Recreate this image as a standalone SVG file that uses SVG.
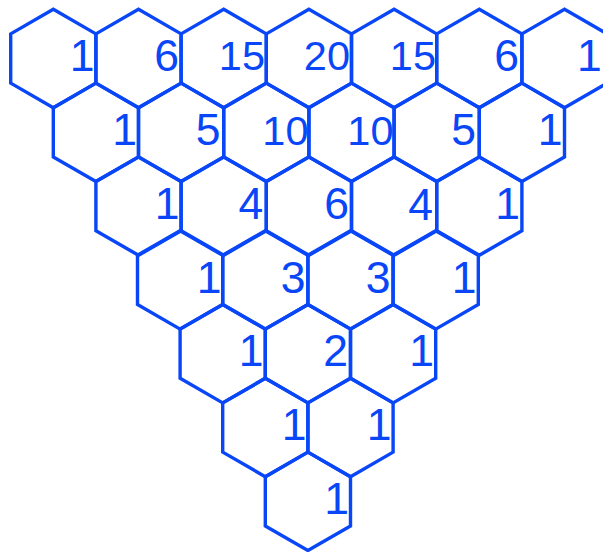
<svg xmlns="http://www.w3.org/2000/svg" xmlns:xlink="http://www.w3.org/1999/xlink" width="603" height="552" viewBox="0 0 603 552">
<style>
.hex{fill:none;stroke:#0846f8;stroke-width:3.4;stroke-linejoin:miter}
.n{fill:#0846f8;font-family:"Liberation Sans",Arial,sans-serif;font-size:44.5px;text-anchor:end}
.n2{font-size:41.5px}
</style>
<defs>
<polygon id="hex" points="0,-49.2 42.6,-24.6 42.6,24.6 0,49.2 -42.6,24.6 -42.6,-24.6"/>
</defs>
<rect width="603" height="552" fill="#ffffff"/>
<g id="connectors"/>
<g id="r0c0"><use xlink:href="#hex" class="hex" x="53.3" y="58.5"/><text class="n" x="94.5" y="71">1</text></g>
<g id="r0c1"><use xlink:href="#hex" class="hex" x="138.5" y="58.5"/><text class="n" x="179" y="71">6</text></g>
<g id="r0c2"><use xlink:href="#hex" class="hex" x="223.7" y="58.5"/><text class="n n2" x="265" y="69.5">15</text></g>
<g id="r0c3"><use xlink:href="#hex" class="hex" x="308.9" y="58.5"/><text class="n n2" x="350" y="70">20</text></g>
<g id="r0c4"><use xlink:href="#hex" class="hex" x="394.1" y="58.5"/><text class="n n2" x="436" y="70">15</text></g>
<g id="r0c5"><use xlink:href="#hex" class="hex" x="479.3" y="58.5"/><text class="n" x="519" y="70.7">6</text></g>
<g id="r0c6"><use xlink:href="#hex" class="hex" x="564.5" y="58.5"/><text class="n" x="577" y="70.5" style="text-anchor:start">1</text></g>
<g id="r1c0"><use xlink:href="#hex" class="hex" x="95.9" y="132.3"/><text class="n" x="137" y="144.5">1</text></g>
<g id="r1c1"><use xlink:href="#hex" class="hex" x="181.1" y="132.3"/><text class="n" x="220.5" y="145">5</text></g>
<g id="r1c2"><use xlink:href="#hex" class="hex" x="266.3" y="132.3"/><text class="n n2" x="308.5" y="144.5">10</text></g>
<g id="r1c3"><use xlink:href="#hex" class="hex" x="351.5" y="132.3"/><text class="n n2" x="393.5" y="144.5">10</text></g>
<g id="r1c4"><use xlink:href="#hex" class="hex" x="436.7" y="132.3"/><text class="n" x="476" y="145">5</text></g>
<g id="r1c5"><use xlink:href="#hex" class="hex" x="521.9" y="132.3"/><text class="n" x="562.5" y="145">1</text></g>
<g id="r2c0"><use xlink:href="#hex" class="hex" x="138.5" y="206.1"/><text class="n" x="179.5" y="219">1</text></g>
<g id="r2c1"><use xlink:href="#hex" class="hex" x="223.7" y="206.1"/><text class="n" x="263.2" y="219">4</text></g>
<g id="r2c2"><use xlink:href="#hex" class="hex" x="308.9" y="206.1"/><text class="n" x="349" y="219">6</text></g>
<g id="r2c3"><use xlink:href="#hex" class="hex" x="394.1" y="206.1"/><text class="n" x="433" y="219.5">4</text></g>
<g id="r2c4"><use xlink:href="#hex" class="hex" x="479.3" y="206.1"/><text class="n" x="520" y="218.5">1</text></g>
<g id="r3c0"><use xlink:href="#hex" class="hex" x="180.1" y="279.9"/><text class="n" x="221.5" y="292.5">1</text></g>
<g id="r3c1"><use xlink:href="#hex" class="hex" x="265.3" y="279.9"/><text class="n" x="305.5" y="292.5">3</text></g>
<g id="r3c2"><use xlink:href="#hex" class="hex" x="350.5" y="279.9"/><text class="n" x="390.5" y="292.5">3</text></g>
<g id="r3c3"><use xlink:href="#hex" class="hex" x="435.7" y="279.9"/><text class="n" x="476.5" y="292.5">1</text></g>
<g id="r4c0"><use xlink:href="#hex" class="hex" x="222.7" y="353.7"/><text class="n" x="263.5" y="365.5">1</text></g>
<g id="r4c1"><use xlink:href="#hex" class="hex" x="307.9" y="353.7"/><text class="n" x="348" y="365.5">2</text></g>
<g id="r4c2"><use xlink:href="#hex" class="hex" x="393.1" y="353.7"/><text class="n" x="434" y="365.5">1</text></g>
<g id="r5c0"><use xlink:href="#hex" class="hex" x="265.3" y="427.5"/><text class="n" x="306.5" y="440">1</text></g>
<g id="r5c1"><use xlink:href="#hex" class="hex" x="350.5" y="427.5"/><text class="n" x="391.5" y="440">1</text></g>
<g id="r6c0"><use xlink:href="#hex" class="hex" x="307.9" y="501.3"/><text class="n" x="349" y="513.5">1</text></g>
</svg>
